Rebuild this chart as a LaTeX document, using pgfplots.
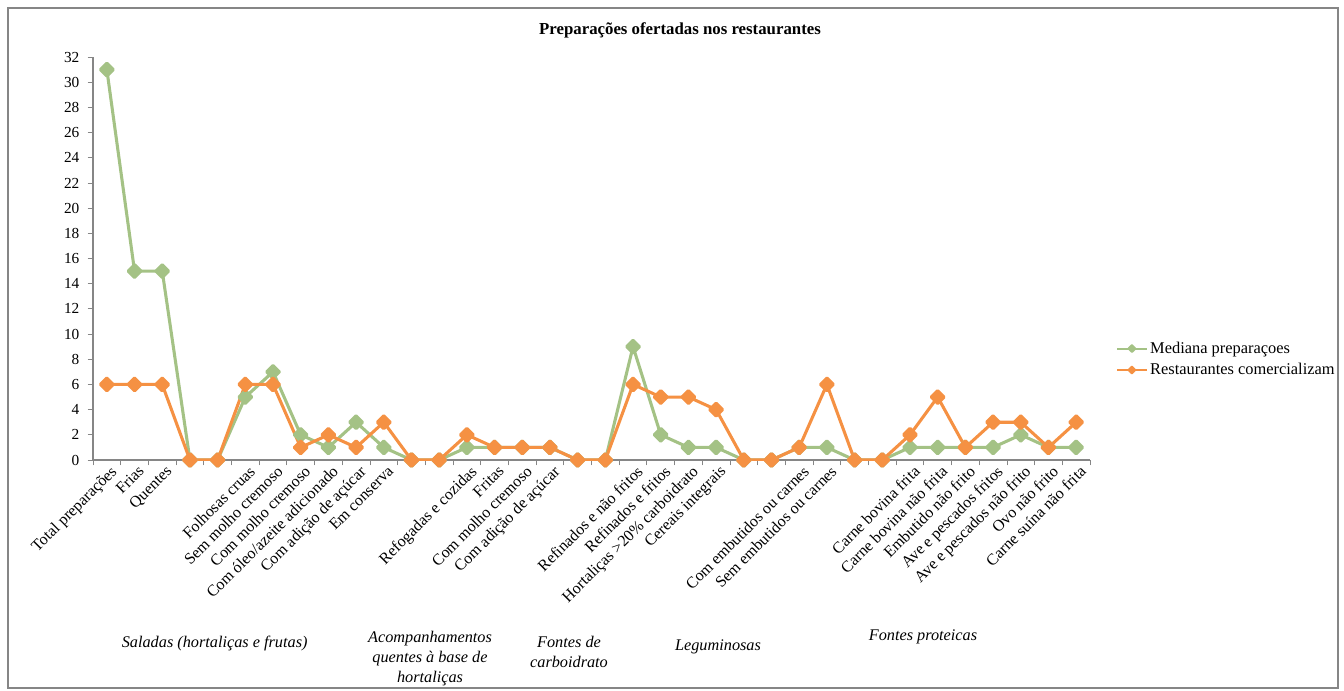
\documentclass[border=0pt]{standalone}
\usepackage{fontspec}
\setmainfont{Liberation Serif}
\usepackage{pgfplots}
\usepackage{pgfplotstable}
\pgfplotsset{compat=1.18}

\definecolor{medgreen}{HTML}{A4C285}
\definecolor{resorange}{HTML}{F59143}
\definecolor{axisgray}{HTML}{868686}

% idx  mediana  restaurantes
\pgfplotstableread{
idx med res
1  31 6
2  15 6
3  15 6
4  0  0
5  0  0
6  5  6
7  7  6
8  2  1
9  1  2
10 3  1
11 1  3
12 0  0
13 0  0
14 1  2
15 1  1
16 1  1
17 1  1
18 0  0
19 0  0
20 9  6
21 2  5
22 1  5
23 1  4
24 0  0
25 0  0
26 1  1
27 1  6
28 0  0
29 0  0
30 1  2
31 1  5
32 1  1
33 1  3
34 2  3
35 1  1
36 1  3
}\prep

\begin{document}
\begin{tikzpicture}
\path[use as bounding box] (0,0) rectangle (1008pt,-518.25pt);
\draw[axisgray, line width=1.1pt] (6pt,-6pt) rectangle (1003.5pt,-516pt);

\node[font=\bfseries\fontsize{12.6}{14}\selectfont] at (510pt,-22.5pt)
  {Preparações ofertadas nos restaurantes};

\begin{axis}[
  scale only axis,
  width=747.75pt, height=302.25pt,
  at={(69.75pt,-345pt)}, anchor=south west,
  xmin=0.5, xmax=36.5, ymin=0, ymax=32,
  axis lines*=left,
  axis line style={axisgray, line width=0.8pt},
  ytick={0,2,...,32},
  xtick={1,...,36},
  minor xtick={0.5,1.5,...,36.5},
  tick align=outside,
  major tick length=4pt,
  minor tick length=4pt,
  major x tick style={draw=none},
  minor x tick style={axisgray, line width=0.6pt},
  major y tick style={axisgray, line width=0.6pt},
  /pgf/number format/assume math mode=true,
  yticklabel style={font=\fontsize{11.5}{12}\selectfont, inner sep=2pt, xshift=-4pt},
  xticklabels={Total preparações, Frias, Quentes, {}, {},
    Folhosas cruas, Sem molho cremoso, Com molho cremoso,
    Com óleo/azeite adicionado, Com adição de açúcar, Em conserva, {}, {},
    Refogadas e cozidas, Fritas, Com molho cremoso, Com adição de açúcar, {}, {},
    Refinados e não fritos, Refinados e fritos, Hortaliças >20\% carboidrato,
    Cereais integrais, {}, {},
    Com embutidos ou carnes, Sem embutidos ou carnes, {}, {},
    Carne bovina frita, Carne bovina não frita, Embutido não frito,
    Ave e pescados fritos, Ave e pescados não frito, Ovo não frito,
    Carne suína não frita},
  xticklabel style={rotate=45, anchor=north east, inner sep=1pt,
    xshift=3pt, font=\fontsize{12}{13}\selectfont},
  legend style={draw=none, fill=none, at={(1.022,0.25)}, anchor=west,
    font=\fontsize{12.3}{13}\selectfont, row sep=2pt},
  legend cell align=left,
  legend image code/.code={
    \draw[mark repeat=2, mark phase=2, mark size=1.8pt, line width=1.5pt]
      plot coordinates {(0pt,0pt) (11pt,0pt) (22pt,0pt)};},
  every axis plot/.append style={line width=2.3pt, line join=round,
    mark=square*, mark size=3.4pt, mark options={rotate=45, solid}},
]
\addplot[color=medgreen] table[x=idx, y=med] {\prep};
\addlegendentry{Mediana preparaçoes}
\addplot[color=resorange] table[x=idx, y=res] {\prep};
\addlegendentry{Restaurantes comercializam}
\end{axis}

\begin{scope}[every node/.style={font=\itshape\fontsize{12.2}{15}\selectfont, align=center}]
\node at (161pt,-482.25pt) {Saladas (hortaliças e frutas)};
\node at (322.5pt,-494.25pt) {Acompanhamentos\\quentes à base de\\hortaliças};
\node at (426.75pt,-489pt) {Fontes de\\carboidrato};
\node at (538.5pt,-485.25pt) {Leguminosas};
\node at (692.25pt,-477.75pt) {Fontes proteicas};
\end{scope}
\end{tikzpicture}
\end{document}
